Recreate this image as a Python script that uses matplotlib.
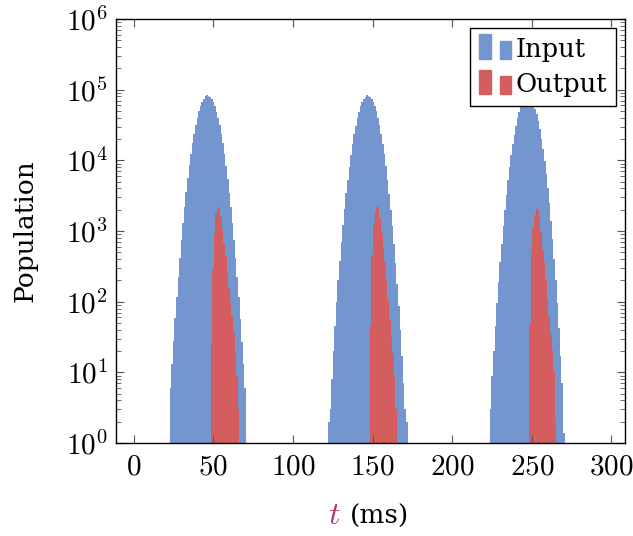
import numpy as np
import matplotlib
matplotlib.use("Agg")
import matplotlib.pyplot as plt
from matplotlib.patches import Rectangle

plt.rcParams['mathtext.fontset'] = 'cm'
plt.rcParams['font.family'] = ['DejaVu Serif']

# bin start times (ms) of each pulse, 1 ms bins
input_starts = [22.6, 122.0, 223.6]
output_starts = [48.4, 148.3, 248.4]
bin_width = 1.0

# input population per bin, one list per pulse
input_1 = [6, 13, 28, 59, 117, 225, 420, 755, 1310, 2200, 3570, 5600, 8500, 12400,
           17500, 23900, 31500, 40100, 49300, 58600, 67300, 74600, 80000, 83000,
           82500, 79500, 74000, 67000, 58000, 49000, 40000, 31200, 23700, 17300,
           12300, 8400, 5500, 3500, 2150, 1290, 740, 410, 220, 115, 57, 27, 13, 6]
input_2 = [2, 3, 8, 20, 45, 98, 200, 380, 700, 1230, 2080, 3400, 5350, 8100, 11900,
           16900, 23200, 30800, 39500, 48700, 58100, 66900, 74400, 79800, 82900,
           82600, 79700, 74300, 67200, 58500, 49200, 40000, 31300, 23600, 17200,
           12100, 8200, 5300, 3300, 2000, 1180, 660, 350, 180, 88, 40, 17, 7, 3, 2]
input_3 = [3, 9, 20, 45, 95, 190, 360, 660, 1160, 1980, 3250, 5200, 7950, 11800,
           16800, 23000, 30700, 39400, 48500, 58000, 67000, 74500, 80000, 82500,
           81000, 77000, 71000, 63000, 54000, 44500, 35500, 27300, 20200, 14400,
           9900, 6500, 4100, 2450, 1400, 770, 400, 200, 95, 42, 17, 7, 1.4]

# output population per bin, one list per pulse
output_1 = [27, 280, 940, 1800, 2150, 2100, 1600, 1020, 680, 440, 260, 160, 100,
            62, 36, 19, 9, 3]
output_2 = [47, 460, 1290, 1860, 2200, 2150, 1510, 940, 600, 370, 205, 105, 55,
            32, 19, 9, 3]
output_3 = [49, 540, 1150, 1700, 2050, 2000, 1580, 980, 540, 370, 205, 105, 62,
            36, 21, 10, 2]

blue = '#7396cf'
red = '#d45e5f'


class TwoBarHandler:
    def __init__(self, color):
        self.color = color

    def legend_artist(self, legend, orig_handle, fontsize, handlebox):
        x0, y0 = handlebox.xdescent, handlebox.ydescent
        h = handlebox.height
        r1 = Rectangle((x0, y0 - 0.1 * h), 8, 1.35 * h, color=self.color,
                       transform=handlebox.get_transform())
        r2 = Rectangle((x0 + 15, y0 - 0.1 * h), 8, 1.0 * h, color=self.color,
                       transform=handlebox.get_transform())
        handlebox.add_artist(r1)
        handlebox.add_artist(r2)
        return r1


fig = plt.figure(figsize=(6.33, 5.36), dpi=100)
ax = fig.add_axes([0.1833, 0.1735, 0.8041, 0.7911])

for start, vals in zip(input_starts, [input_1, input_2, input_3]):
    t = start + bin_width * np.arange(len(vals))
    ax.bar(t, vals, width=bin_width, align='edge', color=blue, linewidth=0)
for start, vals in zip(output_starts, [output_1, output_2, output_3]):
    t = start + bin_width * np.arange(len(vals))
    ax.bar(t, vals, width=bin_width, align='edge', color=red, linewidth=0)

ax.set_yscale('log')
ax.set_ylim(1, 1e6)
ax.set_xlim(-11, 308.5)
ax.set_xticks([0, 50, 100, 150, 200, 250, 300])
ax.set_xticklabels(['$0$', '$50$', '$100$', '$150$', '$200$', '$250$', '$300$'])
ax.set_yticks([10.0 ** k for k in range(7)])
ax.set_yticklabels(['$10^{%d}$' % k for k in range(7)])

ax.tick_params(axis='both', which='both', direction='in', labelsize=21,
               top=True, right=True, color='#555555')
ax.tick_params(axis='both', which='major', length=6, width=0.8)
ax.tick_params(axis='y', which='minor', length=3.5, width=0.6)
ax.tick_params(axis='x', which='major', pad=7)
ax.tick_params(axis='y', which='major', pad=6)
for s in ax.spines.values():
    s.set_linewidth(1.0)

ax.set_ylabel('Population', fontsize=19, labelpad=20)
fig.text(0.538, 0.022, '$t$', color='#b0307a', fontsize=23, ha='right')
fig.text(0.552, 0.022, '(ms)', fontsize=19, ha='left')

h1 = Rectangle((0, 0), 1, 1)
h2 = Rectangle((0, 0), 1, 1)
leg = ax.legend([h1, h2], ['Input', 'Output'], loc='upper right',
                handler_map={h1: TwoBarHandler(blue), h2: TwoBarHandler(red)},
                fontsize=18.5, fancybox=False, framealpha=1, edgecolor='black',
                borderaxespad=0.35, handlelength=1.3, handletextpad=0.1,
                borderpad=0.35, labelspacing=0.4)
leg.get_frame().set_linewidth(1.0)

fig.savefig('out.png', dpi=100)
